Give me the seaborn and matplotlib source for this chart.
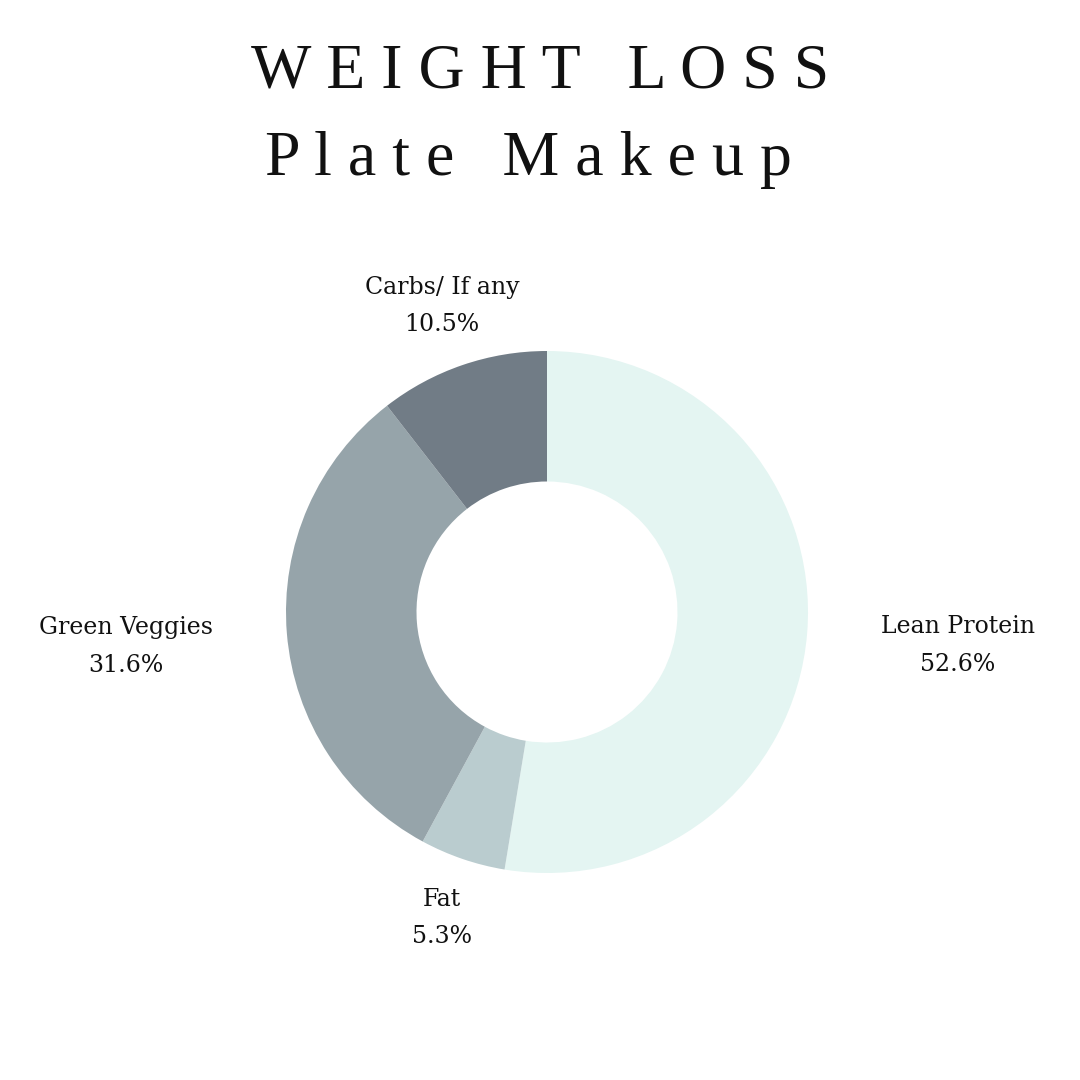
import matplotlib
matplotlib.use("Agg")
import matplotlib.pyplot as plt
import numpy as np
import seaborn as sns

sns.set_theme(style="white")
plt.rcParams['font.family'] = ['DejaVu Serif']

categories = ["Lean Protein", "Fat", "Green Veggies", "Carbs/ If any"]
shares = [52.6, 5.3, 31.6, 10.5]
colors = ["#e4f5f2", "#bacccf", "#96a4aa", "#717c86"]
label_dist = [1.58, 1.24, 1.62, 1.24]

fig = plt.figure(figsize=(10.8, 10.8), dpi=100)
fig.patch.set_facecolor("white")

r = 261 / 1080
cx, cy = 547 / 1080, 1 - 612 / 1080
ax = fig.add_axes([cx - r, cy - r, 2 * r, 2 * r])
wedges, _ = ax.pie(shares, colors=colors, startangle=90, counterclock=False,
                   radius=1, wedgeprops=dict(width=0.5, linewidth=0))
ax.set_xlim(-1, 1)
ax.set_ylim(-1, 1)
ax.set_aspect("equal")
ax.axis("off")

for w, name, val, d in zip(wedges, categories, shares, label_dist):
    ang = np.deg2rad((w.theta1 + w.theta2) / 2)
    ax.text(d * np.cos(ang), d * np.sin(ang), f"{name}\n{val}%",
            ha="center", va="center", fontsize=17, linespacing=1.8,
            clip_on=False, color="#111111")

title_font = dict(family=["Liberation Serif", "DejaVu Serif"], fontsize=46,
                  color="#111111", ha="center", va="center")
fig.text(540 / 1080, 1 - 72 / 1080, "W E I G H T   L O S S", **title_font)
fig.text(528 / 1080, 1 - 160 / 1080, "P l a t e   M a k e u p", **title_font)

fig.savefig("out.png", dpi=100, facecolor="white")
